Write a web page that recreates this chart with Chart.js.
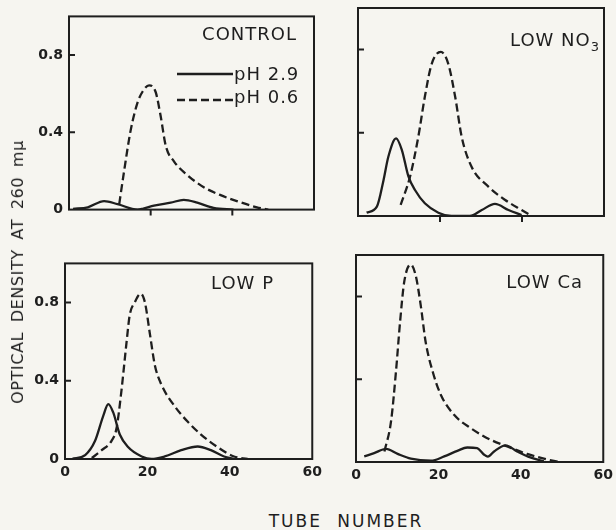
<!DOCTYPE html>
<html><head><meta charset="utf-8">
<script src="https://cdn.jsdelivr.net/npm/chart.js@4.4.1/dist/chart.umd.min.js"></script>
<style>
html,body{margin:0;padding:0;background:#f6f5f0;}
body{width:616px;height:530px;position:relative;overflow:hidden;font-family:"DejaVu Sans",sans-serif;color:#1e1e1e;}
canvas{position:absolute;}
.t{position:absolute;font-size:18px;line-height:18px;white-space:nowrap;letter-spacing:1px;}
.sub{font-size:13px;vertical-align:-5px;letter-spacing:0;}
</style></head><body>
<canvas id="c0"></canvas><canvas id="c1"></canvas><canvas id="c2"></canvas><canvas id="c3"></canvas>
<div class="t" id="title0" style="right:319px;top:25px;"></div>
<div class="t" id="title1" style="right:17px;top:31px;"></div>
<div class="t" id="title2" style="right:342px;top:274px;"></div>
<div class="t" id="title3" style="right:33px;top:273px;"></div>
<svg style="position:absolute;left:176px;top:66px;" width="58" height="40">
  <line x1="1" y1="8" x2="57" y2="8" stroke="#1e1e1e" stroke-width="2.3"/>
  <line x1="1" y1="34" x2="57" y2="34" stroke="#1e1e1e" stroke-width="2.3" stroke-dasharray="8,4"/>
</svg>
<div class="t" id="leg0" style="left:234px;top:65px;"></div>
<div class="t" id="leg1" style="left:234px;top:88px;"></div>
<div class="t" id="ytitle" style="left:18px;top:272px;transform:translate(-50%,-50%) rotate(-90deg);font-size:16px;letter-spacing:0.6px;word-spacing:4px;"></div>
<div class="t" id="xtitle" style="left:346px;top:512px;transform:translateX(-50%);font-size:17px;letter-spacing:2px;word-spacing:8px;"></div>
<script>
// ---- text ----
const tubeTicks = [0, 20, 40, 60];
const tubeTickLabels = ['0', '20', '40', '60'];
const tubeTickMarks = [20, 40];
const odTicks = [0, 0.4, 0.8];
const odTickLabels = ['0', '0.4', '0.8'];
const seriesLabels = ['pH 2.9', 'pH 0.6'];
const panelTitles = ['CONTROL', 'LOW NO<span class="sub">3</span>', 'LOW P', 'LOW Ca'];
const yAxisTitle = 'OPTICAL DENSITY AT 260 mμ';
const xAxisTitle = 'TUBE NUMBER';

// ---- CONTROL ----
const controlSolidX = [1, 4.6, 8.6, 11.9, 16.8, 18, 20.8, 24.9, 28.1, 31.4, 35.4, 40.3];
const controlSolidY = [0.004, 0.012, 0.044, 0.028, 0.0, 0.004, 0.02, 0.036, 0.05, 0.036, 0.009, 0.0];
const controlDashX = [12.3, 13.5, 15.1, 16.8, 18, 19.6, 21.2, 22.4, 23.7, 25.7, 28.9, 33, 37, 41.1, 46, 48.8];
const controlDashY = [0.028, 0.20, 0.41, 0.555, 0.61, 0.643, 0.61, 0.49, 0.33, 0.25, 0.18, 0.116, 0.076, 0.044, 0.012, 0];

// ---- LOW NO3 ----
const no3SolidX = [2.1, 4.6, 6.2, 7.4, 9.3, 10.7, 12.3, 13.9, 16.3, 19.6, 22.8, 27.3, 30.2, 33.4, 36.7, 39.9];
const no3SolidY = [0.016, 0.045, 0.17, 0.285, 0.373, 0.317, 0.19, 0.125, 0.061, 0.016, 0, 0, 0.029, 0.058, 0.029, 0.005];
const no3DashX = [10.4, 12.7, 14.7, 16.3, 18, 20.2, 22, 23.7, 25.3, 27.7, 31.8, 35.9, 39.9, 42.4];
const no3DashY = [0.053, 0.19, 0.38, 0.573, 0.733, 0.789, 0.733, 0.573, 0.38, 0.237, 0.141, 0.077, 0.029, 0];

// ---- LOW P ----
const pSolidX = [1.7, 4.9, 7.3, 9.3, 10.5, 11.7, 13.3, 15.3, 18.6, 21, 24.2, 28.2, 32.2, 35.4, 38.6, 41];
const pSolidY = [0, 0.02, 0.093, 0.222, 0.281, 0.238, 0.125, 0.061, 0.013, 0, 0.013, 0.045, 0.064, 0.045, 0.013, 0];
const pDashX = [6.5, 8.9, 11.3, 12.5, 13.7, 14.9, 15.7, 16.9, 18.4, 19.4, 20.6, 21.8, 23.4, 26.6, 29.8, 33, 37, 41, 44.3];
const pDashY = [0.005, 0.045, 0.093, 0.157, 0.35, 0.59, 0.735, 0.8, 0.845, 0.8, 0.64, 0.48, 0.38, 0.27, 0.19, 0.125, 0.061, 0.013, 0];

// ---- LOW Ca ----
const caSolidX = [2, 4.4, 7.3, 10.1, 13.3, 18.2, 21.4, 24.6, 27, 29.4, 31.1, 32, 33.5, 36.3, 39.1, 42.3, 45.6];
const caSolidY = [0.027, 0.043, 0.063, 0.039, 0.016, 0.006, 0.027, 0.054, 0.07, 0.067, 0.035, 0.026, 0.051, 0.08, 0.051, 0.022, 0.003];
const caDashX = [6.9, 8.5, 9.7, 10.7, 11.7, 13.3, 14.5, 15.7, 16.9, 18.6, 20.6, 23.8, 27.8, 32.7, 36.7, 41.5, 45.6, 49.2];
const caDashY = [0.051, 0.196, 0.437, 0.678, 0.87, 0.954, 0.90, 0.758, 0.58, 0.437, 0.324, 0.228, 0.164, 0.107, 0.075, 0.039, 0.016, 0];

// ---- layout (chart-area rectangles in page pixels) ----
const ink = '#1e1e1e';
const panels = [
  {id:'c0', area:{l:69, r:314, t:5,   b:212}, showX:false, showY:true,  sx:controlSolidX, sy:controlSolidY, dx:controlDashX, dy:controlDashY},
  {id:'c1', area:{l:358,r:604, t:8,   b:216}, showX:false, showY:false, sx:no3SolidX, sy:no3SolidY, dx:no3DashX, dy:no3DashY},
  {id:'c2', area:{l:65, r:313, t:252, b:459}, showX:true,  showY:true,  sx:pSolidX, sy:pSolidY, dx:pDashX, dy:pDashY},
  {id:'c3', area:{l:356,r:604, t:255, b:462}, showX:true,  showY:false, sx:caSolidX, sy:caSolidY, dx:caDashX, dy:caDashY}
];

document.getElementById('title0').innerHTML = panelTitles[0];
document.getElementById('title1').innerHTML = panelTitles[1];
document.getElementById('title2').innerHTML = panelTitles[2];
document.getElementById('title3').innerHTML = panelTitles[3];
document.getElementById('leg0').textContent = seriesLabels[0];
document.getElementById('leg1').textContent = seriesLabels[1];
document.getElementById('ytitle').textContent = yAxisTitle;
document.getElementById('xtitle').textContent = xAxisTitle;

const pts = (xs, ys) => xs.map((x, i) => ({x: x, y: ys[i]}));

const framePlugin = {
  id: 'frame',
  afterDatasetsDraw(chart, args, opts) {
    const {ctx, chartArea: a, scales} = chart;
    ctx.save();
    ctx.strokeStyle = ink;
    ctx.lineWidth = 2;
    ctx.strokeRect(a.left, a.top, a.right - a.left, a.bottom - a.top);
    ctx.beginPath();
    odTicks.forEach(v => {
      if (v === 0) return;
      const y = scales.y.getPixelForValue(v);
      ctx.moveTo(a.left, y); ctx.lineTo(a.left + 6, y);
    });
    if (opts.xMarks) {
      tubeTickMarks.forEach(v => {
        const x = scales.x.getPixelForValue(v);
        ctx.moveTo(x, a.bottom); ctx.lineTo(x, a.bottom + 6);
      });
    }
    ctx.stroke();
    ctx.restore();
  }
};

const padL = 46, padR = 14, padT = 3;
panels.forEach(p => {
  const padB = p.showX ? 32 : 12;
  const cv = document.getElementById(p.id);
  cv.width = p.area.r - p.area.l + padL + padR;
  cv.height = p.area.b - p.area.t + padT + padB;
  cv.style.left = (p.area.l - padL) + 'px';
  cv.style.top = (p.area.t - padT) + 'px';
  const tickFont = {family: 'DejaVu Sans', size: 14, weight: 'bold'};
  new Chart(cv, {
    type: 'line',
    data: {datasets: [
      {label: seriesLabels[0], data: pts(p.sx, p.sy), borderColor: ink, borderWidth: 2.3, pointRadius: 0, cubicInterpolationMode: 'monotone', fill: false},
      {label: seriesLabels[1], data: pts(p.dx, p.dy), borderColor: ink, borderWidth: 2.3, borderDash: [8, 4], pointRadius: 0, cubicInterpolationMode: 'monotone', fill: false}
    ]},
    options: {
      responsive: false, animation: false, devicePixelRatio: 1,
      layout: {padding: {left: 0, right: padR, top: padT, bottom: 0}},
      plugins: {legend: {display: false}, tooltip: {enabled: false}, frame: {xMarks: !p.showX}},
      scales: {
        x: {type: 'linear', min: 0, max: 60,
            afterBuildTicks: s => { s.ticks = tubeTicks.map(v => ({value: v})); },
            afterFit: s => { s.height = padB; },
            grid: {display: false, drawTicks: false}, border: {display: false},
            ticks: {display: p.showX, autoSkip: false, maxRotation: 0, padding: 5, color: ink, font: tickFont,
                    callback: v => tubeTickLabels[tubeTicks.indexOf(v)]}},
        y: {type: 'linear', min: 0, max: 1,
            afterBuildTicks: s => { s.ticks = odTicks.map(v => ({value: v})); },
            afterFit: s => { s.width = padL; },
            grid: {display: false, drawTicks: false}, border: {display: false},
            ticks: {display: p.showY, padding: 6, color: ink, font: tickFont,
                    callback: v => odTickLabels[odTicks.indexOf(v)]}}
      }
    },
    plugins: [framePlugin]
  });
});
</script>
</body></html>
